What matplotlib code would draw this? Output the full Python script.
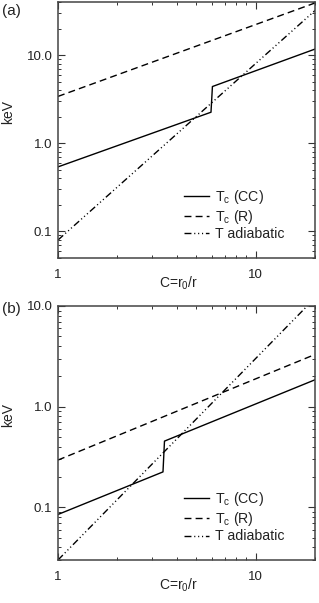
import matplotlib
matplotlib.use("Agg")
import matplotlib.pyplot as plt
from matplotlib.ticker import LogLocator, FixedLocator, FixedFormatter, NullFormatter

plt.rcParams['font.family'] = ['Liberation Sans', 'DejaVu Sans']
plt.rcParams['mathtext.fontset'] = 'custom'
plt.rcParams['mathtext.rm'] = 'Liberation Sans'
plt.rcParams['mathtext.it'] = 'Liberation Sans'

# ---- data ----
# panel (a)
C_cc_a = [1, 5.95, 6.05, 20]
T_cc_a = [0.54, 2.25, 4.4, 11.7]
C_r_a = [1, 20]
T_r_a = [3.4, 39]
C_ad_a = [1, 20]
T_ad_a = [0.08, 32]
# panel (b)
C_cc_b = [1, 3.4, 3.46, 20]
T_cc_b = [0.085, 0.225, 0.455, 1.85]
C_r_b = [1, 20]
T_r_b = [0.295, 3.3]
C_ad_b = [1, 20]
T_ad_b = [0.03, 12]

legend_labels = [r"T$_{\mathrm{c}}$ (CC)", r"T$_{\mathrm{c}}$ (R)", "T adiabatic"]
xtick_vals = [1, 10]
xtick_labels = ["1", "10"]
ytick_vals = [0.1, 1.0, 10.0]
ytick_labels = ["0.1", "1.0", "10.0"]
panel_names = ["(a)", "(b)"]
ylims = [(0.05, 40), (0.03, 10)]
xlim = (1, 20)

W, H = 319, 603
fig = plt.figure(figsize=(W / 100, H / 100), dpi=100)

def frac_box(l, r, t, b):
    return [l / W, 1 - b / H, (r - l) / W, (b - t) / H]

boxes = [frac_box(58, 315, 2, 258), frac_box(58, 315, 306, 560)]
data = [
    (C_cc_a, T_cc_a, C_r_a, T_r_a, C_ad_a, T_ad_a),
    (C_cc_b, T_cc_b, C_r_b, T_r_b, C_ad_b, T_ad_b),
]
label_y = [11, 309]

dashdot3 = (0, (5, 2, 0.8, 2, 0.8, 2, 0.8, 2))
dashed = (0, (5, 3))

for i, (box, d) in enumerate(zip(boxes, data)):
    ax = fig.add_axes(box)
    ccx, ccy, rx, ry, adx, ady = d
    ax.plot(ccx, ccy, color='black', lw=1.0, linestyle='-', label=legend_labels[0])
    ax.plot(rx, ry, color='black', lw=1.0, linestyle=dashed, label=legend_labels[1])
    ax.plot(adx, ady, color='black', lw=1.0, linestyle=dashdot3, label=legend_labels[2])
    ax.set_xscale('log')
    ax.set_yscale('log')
    ax.set_xlim(*xlim)
    ax.set_ylim(*ylims[i])

    ax.xaxis.set_major_locator(FixedLocator(xtick_vals))
    ax.xaxis.set_major_formatter(FixedFormatter(xtick_labels))
    ax.xaxis.set_minor_locator(LogLocator(base=10, subs=range(2, 10), numticks=20))
    ax.xaxis.set_minor_formatter(NullFormatter())
    ax.yaxis.set_major_locator(FixedLocator(ytick_vals))
    ax.yaxis.set_major_formatter(FixedFormatter(ytick_labels))
    ax.yaxis.set_minor_locator(LogLocator(base=10, subs=range(2, 10), numticks=20))
    ax.yaxis.set_minor_formatter(NullFormatter())

    ax.tick_params(which='both', direction='in', top=True, right=True,
                   color='#333333', labelsize=9.5, labelcolor='#222222')
    ax.tick_params(which='major', length=5, width=0.8)
    ax.tick_params(which='minor', length=2.5, width=0.7)
    ax.tick_params(axis='x', which='major', pad=8)
    ax.tick_params(axis='y', which='major', pad=4)
    for s in ax.spines.values():
        s.set_linewidth(1.1)
        s.set_color('#444444')

    ax.set_ylabel("keV", fontsize=10, color='#222222')
    ax.yaxis.set_label_coords(-0.168, 0.57)
    ax.set_xlabel(r"C=r$_{\mathrm{0}}$/r", fontsize=10, color='#222222')
    ax.xaxis.set_label_coords(0.47, -0.065)

    leg = ax.legend(loc='lower left', bbox_to_anchor=(0.49, 0.065), frameon=False,
                    fontsize=10.2, handlelength=1.8, handletextpad=0.4,
                    labelspacing=0.12, borderaxespad=0, borderpad=0)
    for t in leg.get_texts():
        t.set_color('#222222')

    fig.text(2 / W, 1 - label_y[i] / H, panel_names[i], fontsize=11,
             ha='left', va='center', color='#222222')

fig.savefig("out.png", dpi=100)
